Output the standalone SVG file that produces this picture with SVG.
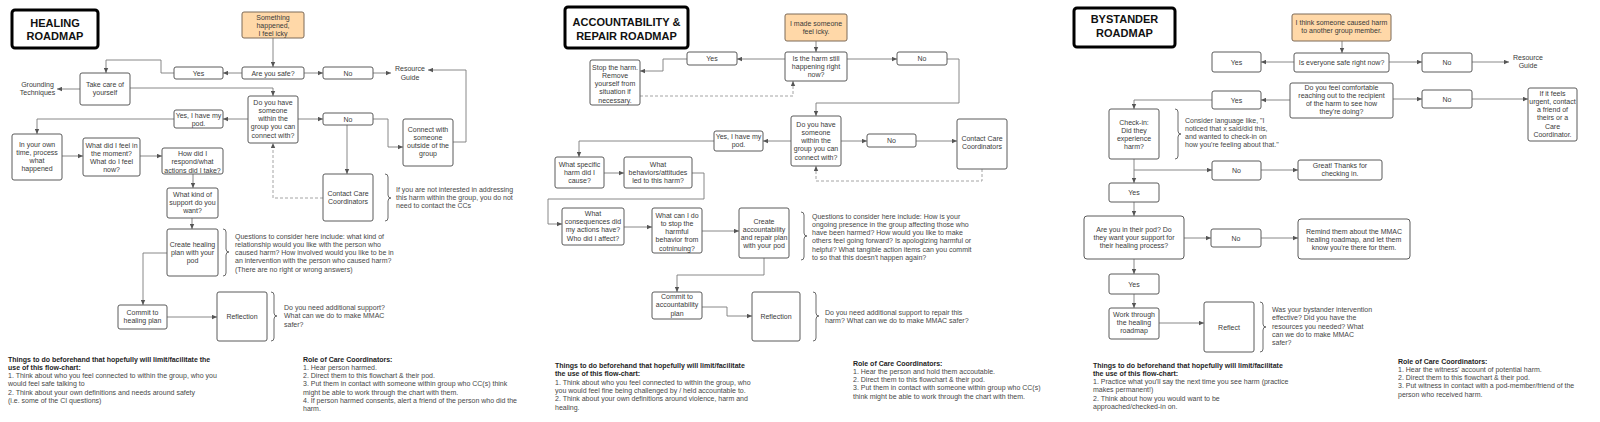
<svg xmlns="http://www.w3.org/2000/svg" width="1600" height="422" viewBox="0 0 1600 422">
<style>
text{font-family:"Liberation Sans",Arial,sans-serif;font-size:7px;fill:#3a3a3a}
.n{fill:#fff;stroke:#5a5a5a;stroke-width:1}
.o{fill:#ffd8a8;stroke:#7d6a58;stroke-width:1}
.ti{fill:#fff;stroke:#000;stroke-width:3}
.tt{font-size:11px;font-weight:bold;fill:#111;text-anchor:middle}
.m{text-anchor:middle}
.a{fill:#474747}
.b{font-weight:bold;fill:#1e1e1e}
.c{fill:none;stroke:#7c7c7c;stroke-width:0.9;marker-end:url(#ah)}
.cl{fill:none;stroke:#7c7c7c;stroke-width:0.9}
.d{fill:none;stroke:#9a9a9a;stroke-width:0.9;stroke-dasharray:3 2;marker-end:url(#ah)}
.br{fill:none;stroke:#5a5a5a;stroke-width:0.9}
</style>
<defs>
<marker id="ah" markerUnits="userSpaceOnUse" markerWidth="6" markerHeight="5" refX="5" refY="2.5" orient="auto">
<path d="M0,0.3 L5,2.5 L0,4.7 z" fill="#555"/>
</marker>
</defs>
<rect width="1600" height="422" fill="#fff"/>

<!-- ================= CONNECTORS ================= -->
<g id="connectors">
<!-- section 1 -->
<path class="c" d="M273,38 V67"/>
<path class="c" d="M242,73 H223"/>
<path class="c" d="M174,73 H161 V60 H106 V73"/>
<path class="c" d="M304,73 H323"/>
<path class="c" d="M373,73 H391"/>
<path class="c" d="M80,89 H57"/>
<path class="c" d="M130,88 H273 V96"/>
<path class="c" d="M248,119 H223"/>
<path class="c" d="M174,119 H37 V134"/>
<path class="c" d="M62,156 H83"/>
<path class="c" d="M140,156 H162"/>
<path class="c" d="M193,174 V188"/>
<path class="c" d="M192,218 V229"/>
<path class="c" d="M167,253 H143 V305"/>
<path class="c" d="M167,317 H217"/>
<path class="c" d="M298,119 H323"/>
<path class="c" d="M373,119 H388 V147 H403"/>
<path class="c" d="M453,142 H466 V70 H428"/>
<path class="c" d="M347,125 V174"/>
<path class="d" d="M323,198 H273 V143"/>
<!-- section 2 -->
<path class="c" d="M816,41 V52"/>
<path class="c" d="M785,59 H737"/>
<path class="c" d="M687,59 H663 V71 H640"/>
<path class="d" d="M640,96 H793 V81"/>
<path class="c" d="M847,59 H897"/>
<path class="c" d="M947,59 H959 V103 H816 V116"/>
<path class="c" d="M841,141 H867"/>
<path class="c" d="M916,141 H957"/>
<path class="d" d="M982,169 V181 H816 V166"/>
<path class="c" d="M791,141 H763"/>
<path class="c" d="M714,141 H579 V157"/>
<path class="c" d="M604,173 H624"/>
<path class="c" d="M692,173 H704 V199 H548 V224 H562"/>
<path class="c" d="M624,227 H652"/>
<path class="c" d="M702,231 H739"/>
<path class="c" d="M764,258 V275 H677 V292"/>
<path class="c" d="M702,307 H727 V316 H752"/>
<!-- section 3 -->
<path class="c" d="M1342,41 V53"/>
<path class="c" d="M1294,62 H1261"/>
<path class="c" d="M1389,62 H1422"/>
<path d="M1472,62 H1503" fill="none" stroke="#c4c4c4" stroke-width="2"/>
<path class="c" d="M1503,62 H1509"/>
<path class="c" d="M1290,100 H1261"/>
<path class="c" d="M1393,99 H1422"/>
<path class="c" d="M1472,99 H1528"/>
<path class="c" d="M1212,100 H1134 V109"/>
<path class="c" d="M1134,159 V183"/>
<path class="c" d="M1134,170 H1212"/>
<path class="c" d="M1261,170 H1298"/>
<path class="c" d="M1134,202 V216"/>
<path class="c" d="M1184,238 H1211"/>
<path class="c" d="M1261,238 H1298"/>
<path class="c" d="M1134,259 V274"/>
<path class="c" d="M1134,294 V308"/>
<path class="c" d="M1159,323 H1204"/>
<!-- braces -->
<path class="br" d="M385,174 Q388,174 388,177 V195 Q388,198 391,198 Q388,198 388,201 V218 Q388,221 385,221"/>
<path class="br" d="M223,229 Q226,229 226,232 V249 Q226,252 229,252 Q226,252 226,255 V273 Q226,276 223,276"/>
<path class="br" d="M271,292 Q274,292 274,295 V313 Q274,316 277,316 Q274,316 274,319 V338 Q274,341 271,341"/>
<path class="br" d="M801,212 Q804,212 804,215 V233 Q804,236 807,236 Q804,236 804,239 V257 Q804,260 801,260"/>
<path class="br" d="M813,292 Q816,292 816,295 V313 Q816,316 819,316 Q816,316 816,319 V338 Q816,341 813,341"/>
<path class="br" d="M1175,109 Q1178,109 1178,112 V131 Q1178,134 1181,134 Q1178,134 1178,137 V156 Q1178,159 1175,159"/>
<path class="br" d="M1260,302 Q1263,302 1263,305 V324 Q1263,327 1266,327 Q1263,327 1263,330 V349 Q1263,352 1260,352"/>
</g>

<!-- ================= SECTION 1: HEALING ================= -->
<g id="s1_title"><rect class="ti" x="12" y="10" width="86" height="38" rx="3"/>
<text class="tt"><tspan x="55" y="27">HEALING</tspan><tspan x="55" y="40">ROADMAP</tspan></text></g>
<g id="s1_start"><rect class="o" x="242" y="12" width="62" height="26" rx="2"/>
<text class="m"><tspan x="273" y="19.5">Something</tspan><tspan x="273" y="27.5">happened,</tspan><tspan x="273" y="35.5">I feel icky</tspan></text></g>
<g id="s1_safe"><rect class="n" x="242" y="67" width="62" height="12" rx="2"/>
<text class="m" x="273" y="75.5">Are you safe?</text></g>
<g id="s1_yes"><rect class="n" x="174" y="67" width="49" height="12" rx="2"/>
<text class="m" x="198.5" y="75.5">Yes</text></g>
<g id="s1_no"><rect class="n" x="323" y="67" width="50" height="12" rx="2"/>
<text class="m" x="348" y="75.5">No</text></g>
<g id="s1_resource"><text class="m"><tspan x="410" y="70.5">Resource</tspan><tspan x="410" y="79.5">Guide</tspan></text></g>
<g id="s1_takecare"><rect class="n" x="80" y="73" width="50" height="32" rx="2"/>
<text class="m"><tspan x="105" y="86.5">Take care of</tspan><tspan x="105" y="95">yourself</tspan></text></g>
<g id="s1_grounding"><text class="m"><tspan x="37.5" y="86.5">Grounding</tspan><tspan x="37.5" y="95">Techniques</tspan></text></g>
<g id="s1_doyou"><rect class="n" x="248" y="96" width="50" height="47" rx="2"/>
<text class="m"><tspan x="273" y="104.5">Do you have</tspan><tspan x="273" y="112.8">someone</tspan><tspan x="273" y="121.1">within the</tspan><tspan x="273" y="129.4">group you can</tspan><tspan x="273" y="137.7">connect with?</tspan></text></g>
<g id="s1_yespod"><rect class="n" x="174" y="110" width="49" height="18" rx="2"/>
<text class="m"><tspan x="198.5" y="117.5">Yes, I have my</tspan><tspan x="198.5" y="125.8">pod.</tspan></text></g>
<g id="s1_no2"><rect class="n" x="323" y="113" width="50" height="12" rx="2"/>
<text class="m" x="348" y="121.5">No</text></g>
<g id="s1_connect"><rect class="n" x="403" y="119" width="50" height="47" rx="2"/>
<text class="m"><tspan x="428" y="131.5">Connect with</tspan><tspan x="428" y="139.8">someone</tspan><tspan x="428" y="148.1">outside of the</tspan><tspan x="428" y="156.4">group</tspan></text></g>
<g id="s1_owntime"><rect class="n" x="12" y="134" width="50" height="46" rx="2"/>
<text class="m"><tspan x="37" y="146.5">In your own</tspan><tspan x="37" y="154.8">time, process</tspan><tspan x="37" y="163.1">what</tspan><tspan x="37" y="171.4">happened</tspan></text></g>
<g id="s1_feel"><rect class="n" x="83" y="138" width="57" height="38" rx="2"/>
<text class="m"><tspan x="111.5" y="147.5">What did I feel in</tspan><tspan x="111.5" y="155.8">the moment?</tspan><tspan x="111.5" y="164.1">What do I feel</tspan><tspan x="111.5" y="172.4">now?</tspan></text></g>
<g id="s1_how"><rect class="n" x="162" y="148" width="61" height="26" rx="2"/>
<text class="m"><tspan x="192.5" y="156">How did I</tspan><tspan x="192.5" y="164.3">respond/what</tspan><tspan x="192.5" y="172.6">actions did I take?</tspan></text></g>
<g id="s1_support"><rect class="n" x="167" y="188" width="51" height="30" rx="2"/>
<text class="m"><tspan x="192.5" y="196.5">What kind of</tspan><tspan x="192.5" y="204.8">support do you</tspan><tspan x="192.5" y="213.1">want?</tspan></text></g>
<g id="s1_contact"><rect class="n" x="323" y="174" width="50" height="47" rx="2"/>
<text class="m"><tspan x="348" y="195.5">Contact Care</tspan><tspan x="348" y="203.8">Coordinators</tspan></text></g>
<g id="s1_create"><rect class="n" x="167" y="229" width="51" height="47" rx="2"/>
<text class="m"><tspan x="192.5" y="246.5">Create healing</tspan><tspan x="192.5" y="254.8">plan with your</tspan><tspan x="192.5" y="263.1">pod</tspan></text></g>
<g id="s1_commit"><rect class="n" x="118" y="305" width="49" height="24" rx="2"/>
<text class="m"><tspan x="142.5" y="315">Commit to</tspan><tspan x="142.5" y="323.3">healing plan</tspan></text></g>
<g id="s1_reflection"><rect class="n" x="217" y="292" width="50" height="49" rx="2"/>
<text class="m" x="242" y="318.5">Reflection</text></g>
<g id="s1_notes">
<text class="a"><tspan x="396" y="191.5">If you are not interested in addressing</tspan><tspan x="396" y="199.8">this harm within the group, you do not</tspan><tspan x="396" y="208.1">need to contact the CCs</tspan></text>
<text class="a"><tspan x="235" y="238.5">Questions to consider here include: what kind of</tspan><tspan x="235" y="246.8">relationship would you like with the person who</tspan><tspan x="235" y="255.1">caused harm? How involved would you like to be in</tspan><tspan x="235" y="263.4">an intervention with the person who caused harm?</tspan><tspan x="235" y="271.7">(There are no right or wrong answers)</tspan></text>
<text class="a"><tspan x="284" y="310">Do you need additional support?</tspan><tspan x="284" y="318.3">What can we do to make MMAC</tspan><tspan x="284" y="326.6">safer?</tspan></text>
<text><tspan class="b" x="8" y="361.5">Things to do beforehand that hopefully will limit/facilitate the</tspan><tspan class="b" x="8" y="369.8">use of this flow-chart:</tspan><tspan class="a" x="8" y="378.1">1. Think about who you feel connected to within the group, who you</tspan><tspan class="a" x="8" y="386.4">would feel safe talking to</tspan><tspan class="a" x="8" y="394.7">2. Think about your own definitions and needs around safety</tspan><tspan class="a" x="8" y="403">(i.e. some of the CI questions)</tspan></text>
<text><tspan class="b" x="303" y="361.5">Role of Care Coordinators:</tspan><tspan class="a" x="303" y="369.8">1. Hear person harmed.</tspan><tspan class="a" x="303" y="378.1">2. Direct them to this flowchart &amp; their pod.</tspan><tspan class="a" x="303" y="386.4">3. Put them in contact with someone within group who CC(s) think</tspan><tspan class="a" x="303" y="394.7">might be able to work through the chart with them.</tspan><tspan class="a" x="303" y="403">4. If person harmed consents, alert a friend of the person who did the</tspan><tspan class="a" x="303" y="411.3">harm.</tspan></text>
</g>

<!-- ================= SECTION 2: ACCOUNTABILITY ================= -->
<g id="s2_title"><rect class="ti" x="565" y="7" width="123" height="41" rx="3"/>
<text class="tt"><tspan x="626.5" y="26">ACCOUNTABILITY &amp;</tspan><tspan x="626.5" y="39.5">REPAIR ROADMAP</tspan></text></g>
<g id="s2_start"><rect class="o" x="785" y="14" width="62" height="27" rx="2"/>
<text class="m"><tspan x="816" y="25.5">I made someone</tspan><tspan x="816" y="34">feel icky.</tspan></text></g>
<g id="s2_harm"><rect class="n" x="785" y="52" width="62" height="29" rx="2"/>
<text class="m"><tspan x="816" y="60.5">Is the harm still</tspan><tspan x="816" y="68.8">happening right</tspan><tspan x="816" y="77.1">now?</tspan></text></g>
<g id="s2_yes"><rect class="n" x="687" y="52" width="50" height="13" rx="2"/>
<text class="m" x="712" y="61">Yes</text></g>
<g id="s2_no"><rect class="n" x="897" y="52" width="50" height="13" rx="2"/>
<text class="m" x="922" y="61">No</text></g>
<g id="s2_stop"><rect class="n" x="590" y="60" width="50" height="45" rx="2"/>
<text class="m"><tspan x="615" y="69.5">Stop the harm.</tspan><tspan x="615" y="77.8">Remove</tspan><tspan x="615" y="86.1">yourself from</tspan><tspan x="615" y="94.4">situation if</tspan><tspan x="615" y="102.7">necessary.</tspan></text></g>
<g id="s2_doyou"><rect class="n" x="791" y="116" width="50" height="50" rx="2"/>
<text class="m"><tspan x="816" y="126.5">Do you have</tspan><tspan x="816" y="134.8">someone</tspan><tspan x="816" y="143.1">within the</tspan><tspan x="816" y="151.4">group you can</tspan><tspan x="816" y="159.7">connect with?</tspan></text></g>
<g id="s2_no2"><rect class="n" x="867" y="134" width="49" height="13" rx="2"/>
<text class="m" x="891.5" y="143">No</text></g>
<g id="s2_contact"><rect class="n" x="957" y="119" width="50" height="50" rx="2"/>
<text class="m"><tspan x="982" y="140.5">Contact Care</tspan><tspan x="982" y="148.8">Coordinators</tspan></text></g>
<g id="s2_yespod"><rect class="n" x="714" y="131" width="49" height="20" rx="2"/>
<text class="m"><tspan x="738.5" y="138.5">Yes, I have my</tspan><tspan x="738.5" y="146.8">pod.</tspan></text></g>
<g id="s2_specific"><rect class="n" x="555" y="157" width="49" height="31" rx="2"/>
<text class="m"><tspan x="579.5" y="166.5">What specific</tspan><tspan x="579.5" y="174.8">harm did I</tspan><tspan x="579.5" y="183.1">cause?</tspan></text></g>
<g id="s2_behaviors"><rect class="n" x="624" y="157" width="68" height="31" rx="2"/>
<text class="m"><tspan x="658" y="166.5">What</tspan><tspan x="658" y="174.8">behaviors/attitudes</tspan><tspan x="658" y="183.1">led to this harm?</tspan></text></g>
<g id="s2_conseq"><rect class="n" x="562" y="208" width="62" height="37" rx="2"/>
<text class="m"><tspan x="593" y="215.8">What</tspan><tspan x="593" y="224.1">consequences did</tspan><tspan x="593" y="232.4">my actions have?</tspan><tspan x="593" y="240.7">Who did I affect?</tspan></text></g>
<g id="s2_stopwhat"><rect class="n" x="652" y="208" width="50" height="45" rx="2"/>
<text class="m"><tspan x="677" y="217.5">What can I do</tspan><tspan x="677" y="225.8">to stop the</tspan><tspan x="677" y="234.1">harmful</tspan><tspan x="677" y="242.4">behavior from</tspan><tspan x="677" y="250.7">cotninuing?</tspan></text></g>
<g id="s2_create"><rect class="n" x="739" y="208" width="50" height="50" rx="2"/>
<text class="m"><tspan x="764" y="223.5">Create</tspan><tspan x="764" y="231.8">accountability</tspan><tspan x="764" y="240.1">and repair plan</tspan><tspan x="764" y="248.4">with your pod</tspan></text></g>
<g id="s2_commit"><rect class="n" x="652" y="292" width="50" height="27" rx="2"/>
<text class="m"><tspan x="677" y="299">Commit to</tspan><tspan x="677" y="307.3">accountability</tspan><tspan x="677" y="315.6">plan</tspan></text></g>
<g id="s2_reflection"><rect class="n" x="752" y="292" width="48" height="49" rx="2"/>
<text class="m" x="776" y="318.5">Reflection</text></g>
<g id="s2_notes">
<text class="a"><tspan x="812" y="218.5">Questions to consider here include: How is your</tspan><tspan x="812" y="226.8">ongoing presence in the group affecting those who</tspan><tspan x="812" y="235.1">have been harmed? How would you like to make</tspan><tspan x="812" y="243.4">others feel going forward? Is apologizing harmful or</tspan><tspan x="812" y="251.7">helpful? What tangible action items can you commit</tspan><tspan x="812" y="260">to so that this doesn't happen again?</tspan></text>
<text class="a"><tspan x="825" y="315">Do you need additional support to repair this</tspan><tspan x="825" y="323.3">harm? What can we do to make MMAC safer?</tspan></text>
<text><tspan class="b" x="555" y="368">Things to do beforehand that hopefully will limit/facilitate</tspan><tspan class="b" x="555" y="376.3">the use of this flow-chart:</tspan><tspan class="a" x="555" y="384.6">1. Think about who you feel connected to within the group, who</tspan><tspan class="a" x="555" y="392.9">you would feel fine being challenged by / held accountable to.</tspan><tspan class="a" x="555" y="401.2">2. Think about your own definitions around violence, harm and</tspan><tspan class="a" x="555" y="409.5">healing.</tspan></text>
<text><tspan class="b" x="853" y="365.5">Role of Care Coordinators:</tspan><tspan class="a" x="853" y="373.8">1. Hear the person and hold them accoutable.</tspan><tspan class="a" x="853" y="382.1">2. Direct them to this flowchart &amp; their pod.</tspan><tspan class="a" x="853" y="390.4">3. Put them in contact with someone within group who CC(s)</tspan><tspan class="a" x="853" y="398.7">think might be able to work through the chart with them.</tspan></text>
</g>

<!-- ================= SECTION 3: BYSTANDER ================= -->
<g id="s3_title"><rect class="ti" x="1074" y="8" width="101" height="39" rx="3"/>
<text class="tt"><tspan x="1124.5" y="23">BYSTANDER</tspan><tspan x="1124.5" y="37">ROADMAP</tspan></text></g>
<g id="s3_start"><rect class="o" x="1292" y="14" width="99" height="27" rx="2"/>
<text class="m"><tspan x="1341.5" y="24.5">I think someone caused harm</tspan><tspan x="1341.5" y="32.5">to another group member.</tspan></text></g>
<g id="s3_safe"><rect class="n" x="1294" y="53" width="95" height="19" rx="2"/>
<text class="m" x="1341.5" y="65">Is everyone safe right now?</text></g>
<g id="s3_yes1"><rect class="n" x="1212" y="52" width="49" height="20" rx="2"/>
<text class="m" x="1236.5" y="64.5">Yes</text></g>
<g id="s3_no1"><rect class="n" x="1422" y="53" width="50" height="19" rx="2"/>
<text class="m" x="1447" y="65">No</text></g>
<g id="s3_resource"><text class="m"><tspan x="1528" y="59.5">Resource</tspan><tspan x="1528" y="67.8">Guide</tspan></text></g>
<g id="s3_comfort"><rect class="n" x="1290" y="83" width="103" height="35" rx="2"/>
<text class="m"><tspan x="1341.5" y="89.5">Do you feel comfortable</tspan><tspan x="1341.5" y="97.8">reaching out to the recipient</tspan><tspan x="1341.5" y="106.1">of the harm to see how</tspan><tspan x="1341.5" y="114.4">they're doing?</tspan></text></g>
<g id="s3_yes2"><rect class="n" x="1212" y="91" width="49" height="18" rx="2"/>
<text class="m" x="1236.5" y="102.5">Yes</text></g>
<g id="s3_no2"><rect class="n" x="1422" y="90" width="50" height="18" rx="2"/>
<text class="m" x="1447" y="101.5">No</text></g>
<g id="s3_urgent"><rect class="n" x="1528" y="88" width="49" height="53" rx="2"/>
<text class="m"><tspan x="1552.5" y="95.5">If it feels</tspan><tspan x="1552.5" y="103.8">urgent, contact</tspan><tspan x="1552.5" y="112.1">a friend of</tspan><tspan x="1552.5" y="120.4">theirs or a</tspan><tspan x="1552.5" y="128.7">Care</tspan><tspan x="1552.5" y="137">Coordinator.</tspan></text></g>
<g id="s3_checkin"><rect class="n" x="1109" y="109" width="50" height="50" rx="2"/>
<text class="m"><tspan x="1134" y="124.5">Check-in:</tspan><tspan x="1134" y="132.8">Did they</tspan><tspan x="1134" y="141.1">experience</tspan><tspan x="1134" y="149.4">harm?</tspan></text></g>
<g id="s3_no3"><rect class="n" x="1212" y="161" width="49" height="19" rx="2"/>
<text class="m" x="1236.5" y="173">No</text></g>
<g id="s3_great"><rect class="n" x="1298" y="160" width="84" height="20" rx="2"/>
<text class="m"><tspan x="1340" y="167.5">Great! Thanks for</tspan><tspan x="1340" y="175.8">checking in.</tspan></text></g>
<g id="s3_yes3"><rect class="n" x="1109" y="183" width="50" height="19" rx="2"/>
<text class="m" x="1134" y="195">Yes</text></g>
<g id="s3_pod"><rect class="n" x="1084" y="216" width="100" height="43" rx="3"/>
<text class="m"><tspan x="1134" y="231.5">Are you in their pod? Do</tspan><tspan x="1134" y="239.8">they want your support for</tspan><tspan x="1134" y="248.1">their healing process?</tspan></text></g>
<g id="s3_no4"><rect class="n" x="1211" y="229" width="50" height="18" rx="2"/>
<text class="m" x="1236" y="240.5">No</text></g>
<g id="s3_remind"><rect class="n" x="1298" y="219" width="112" height="40" rx="3"/>
<text class="m"><tspan x="1354" y="233.5">Remind them about the MMAC</tspan><tspan x="1354" y="241.8">healing roadmap, and let them</tspan><tspan x="1354" y="250.1">know you're there for them.</tspan></text></g>
<g id="s3_yes4"><rect class="n" x="1109" y="274" width="50" height="20" rx="2"/>
<text class="m" x="1134" y="286.5">Yes</text></g>
<g id="s3_work"><rect class="n" x="1109" y="308" width="50" height="31" rx="2"/>
<text class="m"><tspan x="1134" y="316.5">Work through</tspan><tspan x="1134" y="324.8">the healing</tspan><tspan x="1134" y="333.1">roadmap</tspan></text></g>
<g id="s3_reflect"><rect class="n" x="1204" y="302" width="50" height="50" rx="2"/>
<text class="m" x="1229" y="329.5">Reflect</text></g>
<g id="s3_notes">
<text class="a"><tspan x="1185" y="122.5">Consider language like, "I</tspan><tspan x="1185" y="130.8">noticed that x said/did this,</tspan><tspan x="1185" y="139.1">and wanted to check-in on</tspan><tspan x="1185" y="147.4">how you're feeling about that."</tspan></text>
<text class="a"><tspan x="1272" y="312">Was your bystander intervention</tspan><tspan x="1272" y="320.3">effective? Did you have the</tspan><tspan x="1272" y="328.6">resources you needed? What</tspan><tspan x="1272" y="336.9">can we do to make MMAC</tspan><tspan x="1272" y="345.2">safer?</tspan></text>
<text><tspan class="b" x="1093" y="367.5">Things to do beforehand that hopefully will limit/facilitate</tspan><tspan class="b" x="1093" y="375.8">the use of this flow-chart:</tspan><tspan class="a" x="1093" y="384.1">1. Practice what you'll say the next time you see harm (practice</tspan><tspan class="a" x="1093" y="392.4">makes permanent!)</tspan><tspan class="a" x="1093" y="400.7">2. Think about how you would want to be</tspan><tspan class="a" x="1093" y="409">approached/checked-in on.</tspan></text>
<text><tspan class="b" x="1398" y="363.5">Role of Care Coordinators:</tspan><tspan class="a" x="1398" y="371.8">1. Hear the witness' account of potential harm.</tspan><tspan class="a" x="1398" y="380.1">2. Direct them to this flowchart &amp; their pod.</tspan><tspan class="a" x="1398" y="388.4">3. Put witness in contact with a pod-member/friend of the</tspan><tspan class="a" x="1398" y="396.7">person who received harm.</tspan></text>
</g>
</svg>
